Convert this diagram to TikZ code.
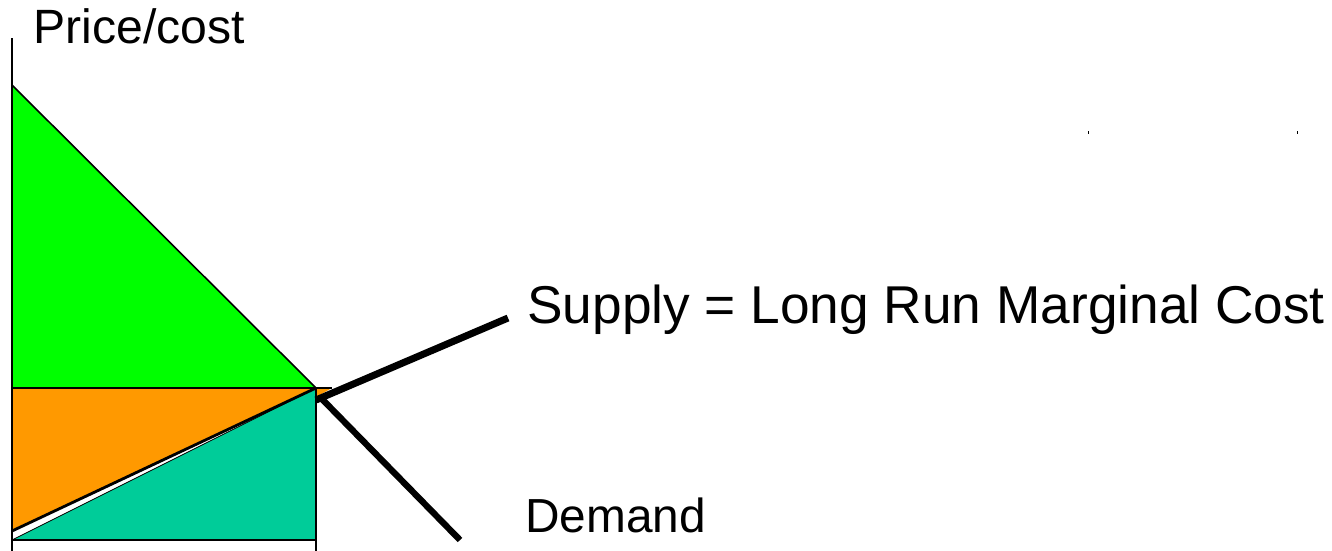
\documentclass[tikz,border=0pt]{standalone}
\usepackage{fontspec}
\setmainfont{Liberation Sans}
\definecolor{cgreen}{HTML}{00FF00}
\definecolor{corange}{HTML}{FF9900}
\definecolor{cteal}{HTML}{00CC99}
\tikzset{
  area/.style={draw=black, line width=0.9pt},
  axisline/.style={draw=black, line width=0.9pt},
  curve/.style={draw=black, line width=3.6pt},
  lbl/.style={anchor=base west, inner sep=0pt, text=black},
}
\begin{document}
\begin{tikzpicture}[x=0.02cm, y=-0.02cm]
\useasboundingbox (0,0) rectangle (1332,551);
% key points
\coordinate (top) at (12,38);
\coordinate (pmax) at (12,85);
\coordinate (pl) at (12,388);
\coordinate (O) at (12,540);
\coordinate (Obot) at (12,551);
\coordinate (s0) at (12,531);
\coordinate (E) at (316,388);
\coordinate (Q) at (316,540);
\coordinate (Qbot) at (316,551);
\coordinate (Etip) at (332,388);
\coordinate (Ebelow) at (316,397);
\coordinate (dstart) at (320,397);
\coordinate (dend) at (460,540);
\coordinate (sstart) at (316,400);
\coordinate (send) at (508,318);
% areas
\fill[cgreen] (pmax) -- (E) -- (pl) -- cycle;
\fill[corange] (pl) rectangle (Q);
\fill[corange] (E) -- (Etip) -- (Ebelow) -- cycle;
\fill[white] (s0) -- (E) -- (O) -- cycle;
\fill[cteal] (O) -- (E) -- (Q) -- cycle;
\draw[area] (pmax) -- (E);
\draw[area] (pl) -- (Etip);
\draw[area] (E) -- (Qbot);
\draw[area] (O) -- (Q);
\draw[line width=0.5pt] (O) -- (E);
\draw[line width=1.6pt] (s0) -- (E);
% axis
\draw[axisline] (top) -- (Obot);
% curves
\draw[curve] (dstart) -- (dend);
\draw[curve, line width=4pt] (sstart) -- (send);
% tiny marks
\fill (1087.5,130.5) rectangle (1088.5,133.5);
\fill (1296.5,130.5) rectangle (1297.5,133.5);
% labels
\node[lbl, font=\fontsize{27.4}{32}\selectfont] (ylab) at (33,43) {Price/cost};
\node[lbl, font=\fontsize{30.3}{35}\selectfont] (slab) at (527,323) {Supply = Long Run Marginal Cost};
\node[lbl, font=\fontsize{27.2}{32}\selectfont] (dlab) at (525,532) {Demand};
\end{tikzpicture}
\end{document}
